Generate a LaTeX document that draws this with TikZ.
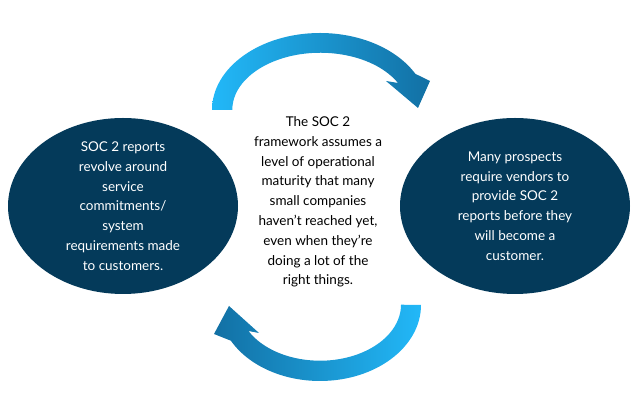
\documentclass[tikz,border=0pt]{standalone}
\usepackage{fontspec}
\setmainfont{Lato}
\usetikzlibrary{shapes.geometric, positioning}
\definecolor{navy}{HTML}{043A5A}
\definecolor{lightblue}{HTML}{22B8F8}
\definecolor{darkblue}{HTML}{1270A4}
\tikzset{
  bubble/.style={ellipse, fill=navy, minimum width=230pt, minimum height=176pt, text=white},
  txt/.style={align=center, font=\fontsize{13.5}{19.8}\selectfont},
}
\begin{document}
\begin{tikzpicture}[x=1pt,y=1pt]
            \useasboundingbox (0,0) rectangle (638,414);
            % the two bubbles
            \node[bubble] (left) at (123,208) {};
            \node[bubble] (right) at (515,208) {};
            \node[txt, text=white] (lefttext) at (left) {SOC 2 reports\\revolve around\\service\\commitments/\\system\\requirements made\\to customers.};
            \node[txt, text=white] (righttext) at (right) {Many prospects\\require vendors to\\provide SOC 2\\reports before they\\will become a\\customer.};
            % middle text
            \node[txt] (middle) at (318,212) {The SOC 2\\framework assumes a\\level of operational\\maturity that many\\small companies\\haven't reached yet,\\even when they're\\doing a lot of the\\right things.};
            % top arrow
            \shade[left color=lightblue, right color=darkblue]
                (212,304) arc[start angle=180, end angle=28, x radius=108, y radius=77]
                -- (430,333) -- (418,306) -- (386,333) -- (398,331)
                arc[start angle=28, end angle=180, x radius=88, y radius=57] -- cycle;
            % bottom arrow
            \shade[left color=darkblue, right color=lightblue]
                (421,109) arc[start angle=0, end angle=-152, x radius=101, y radius=76]
                -- (214,80) -- (229,108) -- (259,81) -- (248.5,83)
                arc[start angle=-152, end angle=0, x radius=81, y radius=56] -- cycle;
        \end{tikzpicture}
\end{document}
